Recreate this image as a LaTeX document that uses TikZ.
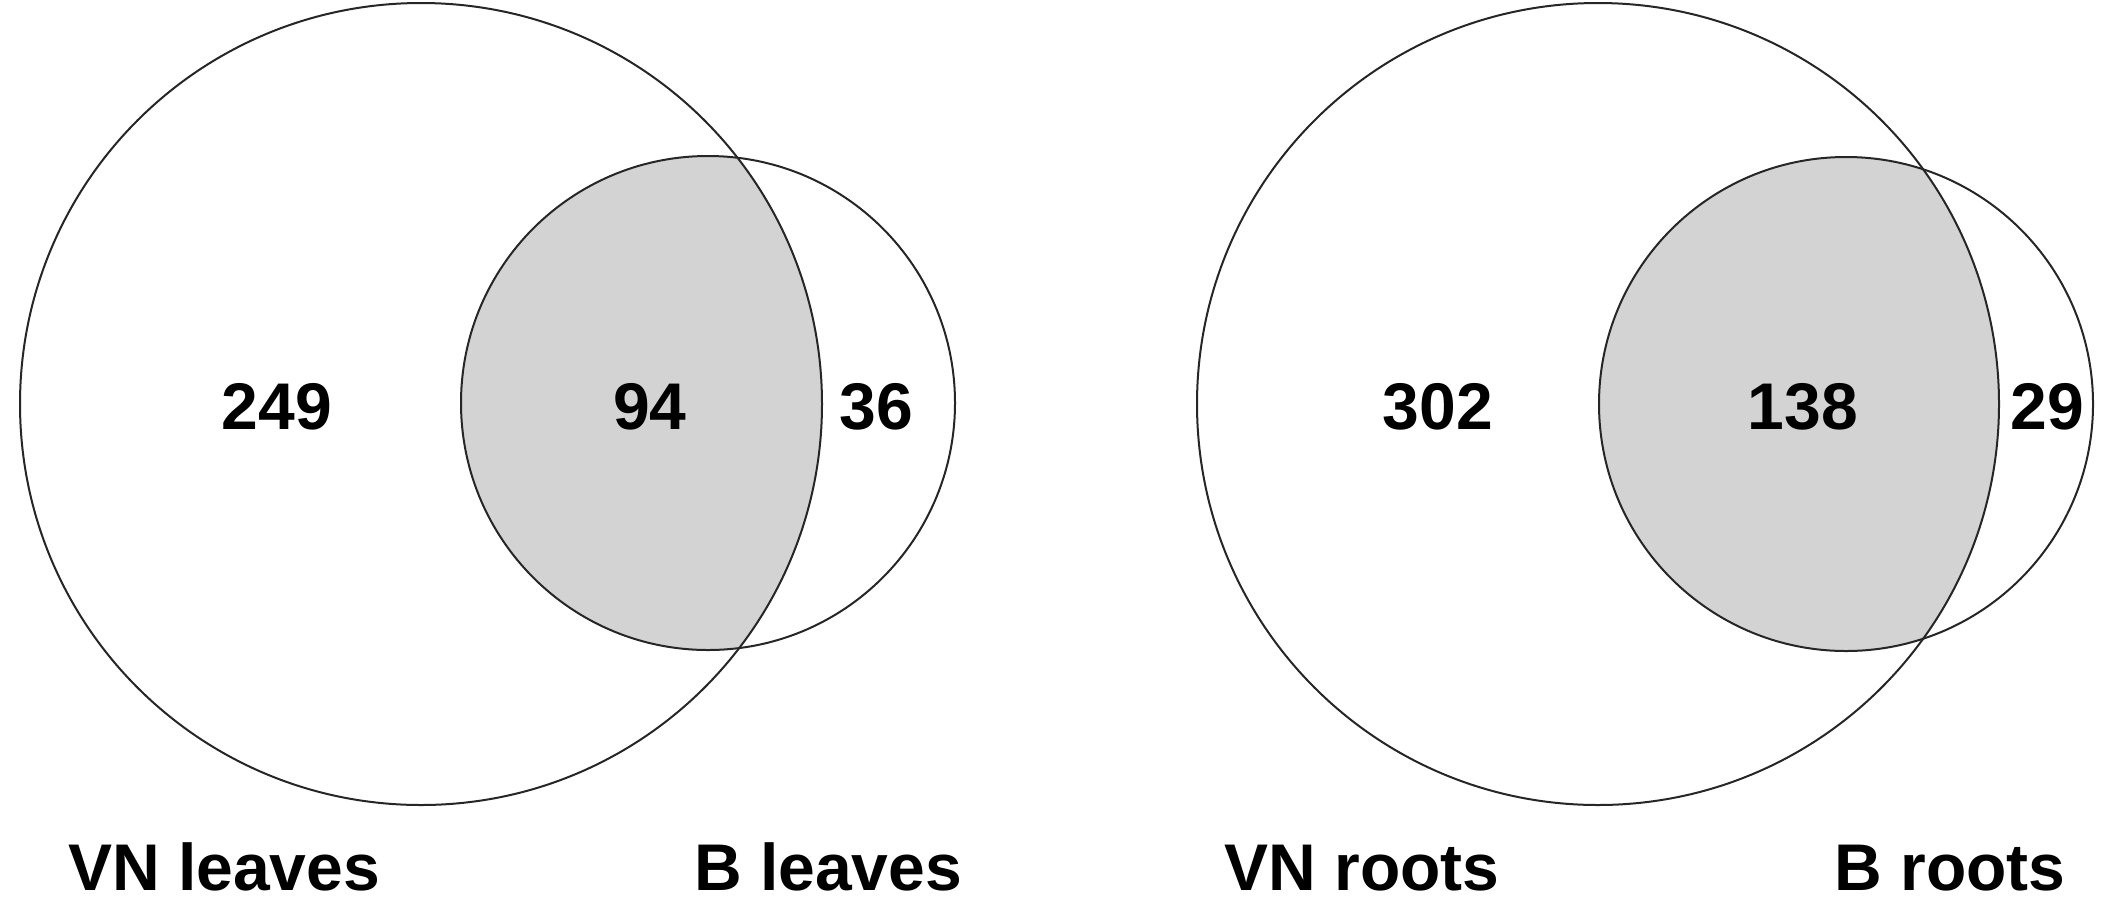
\documentclass[tikz,border=0pt]{standalone}
\usepackage{fontspec}
\setmainfont{Liberation Sans}
\begin{document}
\begin{tikzpicture}[x=1pt,y=-1pt,
  ring/.style={draw=black!85,line width=2pt},
  num/.style={font=\bfseries\fontsize{66}{78}\selectfont,anchor=base,inner sep=0pt},
  lab/.style={font=\bfseries\fontsize{66}{78}\selectfont,anchor=base,inner sep=0pt}]
\useasboundingbox (0,0) rectangle (2109,903);
\definecolor{venngray}{HTML}{D3D3D3}
% left pair
\begin{scope}
  \clip (421,404) circle[radius=401];
  \fill[venngray] (708,403) circle[radius=247];
\end{scope}
\draw[ring] (421,404) circle[radius=401];
\draw[ring] (708,403) circle[radius=247];
% right pair
\begin{scope}
  \clip (1598,404) circle[radius=401];
  \fill[venngray] (1846,404) circle[radius=247];
\end{scope}
\draw[ring] (1598,404) circle[radius=401];
\draw[ring] (1846,404) circle[radius=247];
% counts
\node[num] (a1) at (277,429) {249};
\node[num] (a2) at (650,429) {94};
\node[num] (a3) at (876,429) {36};
\node[num] (b1) at (1438,429) {302};
\node[num] (b2) at (1803,429) {138};
\node[num] (b3) at (2047,429) {29};
% labels
\node[lab] (l1) at (224,890) {VN leaves};
\node[lab] (l2) at (828,890) {B leaves};
\node[lab] (l3) at (1362,890) {VN roots};
\node[lab] (l4) at (1950,890) {B roots};
\end{tikzpicture}
\end{document}
